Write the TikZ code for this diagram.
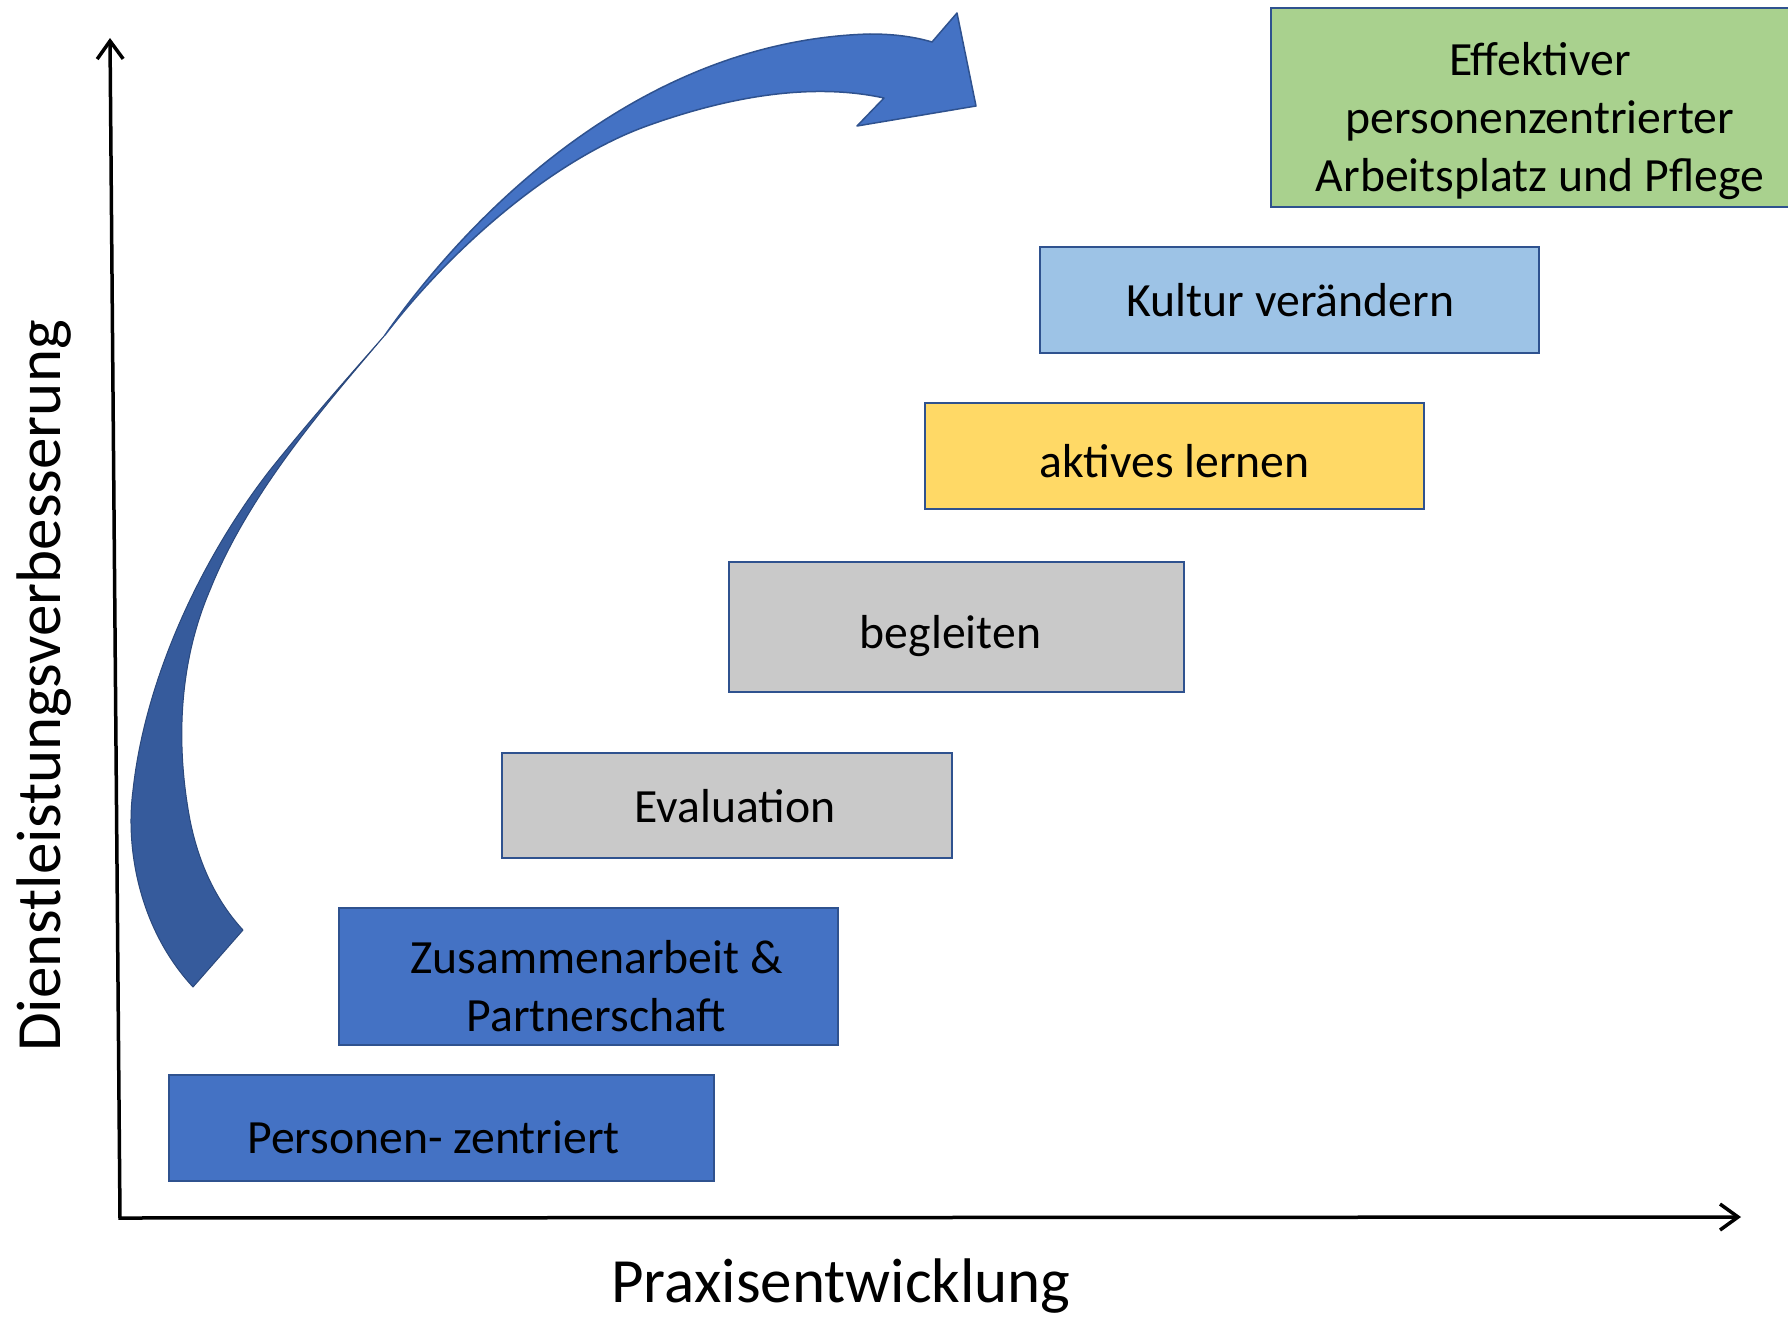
\documentclass[tikz,border=0pt]{standalone}
\usepackage{fontspec}
\setmainfont{Carlito}
\usetikzlibrary{arrows.meta}
\definecolor{boxblue}{HTML}{4472C4}
\definecolor{edgeblue}{HTML}{2F528F}
\definecolor{darkblue}{RGB}{54,91,156}
\definecolor{boxgray}{HTML}{C9C9C9}
\definecolor{boxyellow}{HTML}{FFD966}
\definecolor{boxlight}{HTML}{9DC3E6}
\definecolor{boxgreen}{HTML}{A9D18E}
\begin{document}
\begin{tikzpicture}[x=1pt,y=-1pt,
  stepbox/.style={draw=edgeblue, line width=2pt, inner sep=0pt},
  boxtext/.style={inner sep=0pt, align=center, text=black,
    font=\fontsize{47.7}{58}\selectfont},
  axisline/.style={line width=3.5pt, line join=miter,
    {Straight Barb[length=18pt,width=26pt]}-{Straight Barb[length=18pt,width=26pt]}},
  axlabel/.style={font=\fontsize{63}{76}\selectfont, inner sep=0pt},
  arrowpart/.style={draw=edgeblue, line width=1.5pt, line join=round}]
\useasboundingbox (0,0) rectangle (1788,1319);

% curved arrow: lower (darker) part
\fill[darkblue, draw=darkblue!80!black, line width=1pt, line join=round]
  (193,987) .. controls (140,930) and (125,850) .. (133,790)
  .. controls (145,680) and (200,560) .. (270,470)
  .. controls (310,420) and (350,375) .. (385,335)
  .. controls (330,400) and (250,490) .. (210,590)
  .. controls (180,660) and (175,740) .. (190,820)
  .. controls (200,870) and (220,905) .. (243,930) -- cycle;
% curved arrow: upper part with head
\filldraw[fill=boxblue, arrowpart]
  (385,335) .. controls (480,200) and (650,40) .. (870,34)
  .. controls (895,34) and (915,37) .. (932,42)
  -- (957,13) -- (976,106) -- (857,126) -- (884,98)
  .. controls (820,84) and (740,92) .. (644,127)
  .. controls (550,162) and (450,250) .. (385,335) -- cycle;

% steps
\node[stepbox, fill=boxblue, minimum width=545pt, minimum height=106pt] (p1) at (441.5,1128) {};
\node[stepbox, fill=boxblue, minimum width=499pt, minimum height=137pt] (p2) at (588.5,976.5) {};
\node[stepbox, fill=boxgray, minimum width=450pt, minimum height=105pt] (p3) at (727,805.5) {};
\node[stepbox, fill=boxgray, minimum width=455pt, minimum height=130pt] (p4) at (956.5,627) {};
\node[stepbox, fill=boxyellow, minimum width=499pt, minimum height=106pt] (p5) at (1174.5,456) {};
\node[stepbox, fill=boxlight, minimum width=499pt, minimum height=106pt] (p6) at (1289.5,300) {};
\node[stepbox, fill=boxgreen, minimum width=538pt, minimum height=199pt] (p7) at (1540,107.5) {};

\node[boxtext, xshift=-8pt, yshift=-9pt] (t1) at (p1.center) {Personen- zentriert};
\node[boxtext, xshift=8pt, yshift=-10pt] (t2) at (p2.center) {Zusammenarbeit \&\\Partnerschaft};
\node[boxtext, xshift=8pt, yshift=-1pt] (t3) at (p3.center) {Evaluation};
\node[boxtext, xshift=-6pt, yshift=-9pt] (t4) at (p4.center) {begleiten};
\node[boxtext, yshift=-5pt] (t5) at (p5.center) {aktives lernen};
\node[boxtext, xshift=1pt] (t6) at (p6.center) {Kultur verändern};
\node[boxtext, yshift=-14pt] (t7) at (p7.center) {Effektiver\\personenzentrierter\\Arbeitsplatz und Pflege};

% axes
\coordinate (o) at (120,1218);
\coordinate (ytop) at (110,38);
\coordinate (xend) at (1741,1217);
\draw[axisline] (ytop) -- (o) -- (xend);

\node[axlabel, anchor=base] (xl) at (841,1302) {Praxisentwicklung};
\node[axlabel, anchor=base, rotate=90] (yl) at (60,686) {Dienstleistungsverbesserung};
\end{tikzpicture}
\end{document}
